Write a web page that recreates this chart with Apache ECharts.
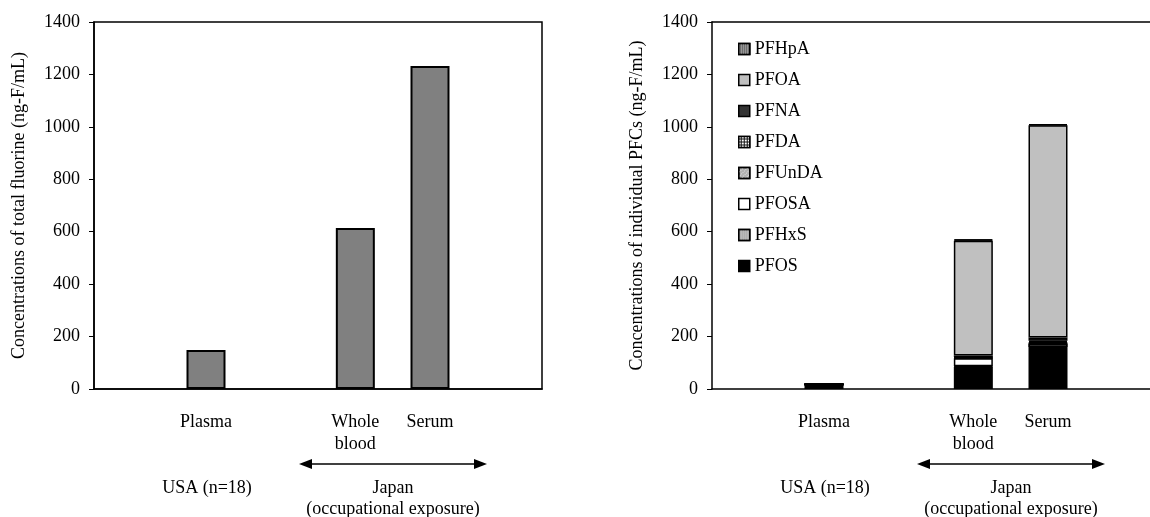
<!DOCTYPE html>
<html>
<head>
<meta charset="utf-8">
<script src="https://cdn.jsdelivr.net/npm/echarts@6/dist/echarts.min.js"></script>
<style>
  html, body { margin: 0; padding: 0; background: #fff; }
  #chart { width: 1150px; height: 517px; }
</style>
</head>
<body>
<div id="chart"></div>
<script>
// categories (empty slots keep the gaps between groups)
var categories = ["", "Plasma", "", "Whole\nblood", "Serum", ""];
var yTicks = [0, 200, 400, 600, 800, 1000, 1200, 1400];

// left panel: total fluorine
var totalFluorine = [null, 149, null, 614, 1232, null];

// right panel: individual PFCs (bottom to top of the stack)
var pfos   = [null, 14,  null, 84,  160, null];
var pfhxs  = [null, 2,   null, 3,   14,  null];
var pfosa  = [null, 0.5, null, 30,  2,   null];
var pfunda = [null, 0.5, null, 2,   3,   null];
var pfda   = [null, 0.5, null, 3,   5,   null];
var pfna   = [null, 0.5, null, 6,   12,  null];
var pfoa   = [null, 2,   null, 438, 810, null];
var pfhpa  = [null, 0.2, null, 4,   4,   null];

var legendOrder = ["PFHpA", "PFOA", "PFNA", "PFDA", "PFUnDA", "PFOSA", "PFHxS", "PFOS"];

var FONT = "Liberation Serif";
var FS = 18;

var chartDom = document.getElementById("chart");
var myChart = echarts.init(chartDom);

function xAxisFor(idx) {
  return {
    type: "category",
    gridIndex: idx,
    data: categories,
    axisLine: { lineStyle: { color: "#000", width: 1.5 } },
    axisTick: { inside: true, length: 6, alignWithLabel: false, lineStyle: { color: "#000" } },
    axisLabel: { color: "#000", fontFamily: FONT, fontSize: FS, lineHeight: 22, margin: 22, interval: 0 },
  };
}

// top edge of the frame (right panel runs off the canvas, so no grid box there)
function topAxisFor(idx) {
  return {
    type: "category",
    gridIndex: idx,
    position: "top",
    data: categories,
    axisLine: { lineStyle: { color: "#000", width: 1.5 } },
    axisTick: { show: false },
    axisLabel: { show: false },
  };
}

function yAxisFor(idx, name) {
  return {
    type: "value",
    gridIndex: idx,
    min: 0,
    max: 1400,
    interval: 200,
    name: name,
    nameLocation: "middle",
    nameRotate: 90,
    nameGap: 66,
    nameTextStyle: { color: "#000", fontFamily: FONT, fontSize: FS },
    splitLine: { show: false },
    axisLine: { show: true, lineStyle: { color: "#000", width: 1.5 } },
    axisTick: { show: true, length: 5, lineStyle: { color: "#000" } },
    axisLabel: {
      color: "#000", fontFamily: FONT, fontSize: FS, margin: 14,
      formatter: function (v) { return yTicks.indexOf(v) >= 0 ? String(v) : ""; },
    },
  };
}

// arrows + group labels under each panel
function groupLabels(left) {
  var y = 464;
  var x1 = left + 205, x2 = left + 393;
  var txt = function (x, ty, s) {
    return {
      type: "text", x: x, y: ty,
      style: { text: s, fill: "#000", font: FS + "px '" + FONT + "'", align: "center", verticalAlign: "middle" },
    };
  };
  return [
    { type: "line", shape: { x1: x1 + 8, y1: y, x2: x2 - 8, y2: y }, style: { stroke: "#000", lineWidth: 1.5 } },
    { type: "polygon", shape: { points: [[x1, y], [x1 + 13, y - 5], [x1 + 13, y + 5]] }, style: { fill: "#000" } },
    { type: "polygon", shape: { points: [[x2, y], [x2 - 13, y - 5], [x2 - 13, y + 5]] }, style: { fill: "#000" } },
    txt(left + 113, 488, "USA (n=18)"),
    txt((x1 + x2) / 2, 488, "Japan"),
    txt((x1 + x2) / 2, 509, "(occupational exposure)"),
  ];
}

function pfcSeries(name, data, color, decal) {
  var style = { color: color, borderColor: "#000", borderWidth: 1.5 };
  if (decal) style.decal = decal;
  return {
    name: name,
    type: "bar",
    stack: "pfc",
    xAxisIndex: 1,
    yAxisIndex: 1,
    barWidth: 39,
    data: data,
    itemStyle: style,
    emphasis: { disabled: true },
  };
}

var option = {
  animation: false,
  backgroundColor: "#fff",
  textStyle: { fontFamily: FONT },
  grid: [
    { left: 94, top: 22, width: 448, height: 367, show: true, borderColor: "#000", borderWidth: 1.5, backgroundColor: "transparent", outerBoundsMode: "none" },
    { left: 712, top: 22, width: 448, height: 367, show: false, outerBoundsMode: "none" },
  ],
  xAxis: [xAxisFor(0), xAxisFor(1), topAxisFor(1)],
  yAxis: [
    yAxisFor(0, "Concentrations of total fluorine (ng-F/mL)"),
    yAxisFor(1, "Concentrations of individual PFCs (ng-F/mL)"),
  ],
  legend: {
    data: legendOrder,
    orient: "vertical",
    left: 733,
    top: 35,
    itemWidth: 11,
    itemHeight: 11,
    itemGap: 13,
    icon: "rect",
    textStyle: { color: "#000", fontFamily: FONT, fontSize: FS },
    itemStyle: { borderColor: "#000", borderWidth: 1.5 },
    selectedMode: false,
  },
  series: [
    {
      name: "Total fluorine",
      type: "bar",
      xAxisIndex: 0,
      yAxisIndex: 0,
      barWidth: 39,
      data: totalFluorine,
      itemStyle: { color: "#808080", borderColor: "#000", borderWidth: 2 },
      emphasis: { disabled: true },
    },
    pfcSeries("PFOS", pfos, "#000000"),
    pfcSeries("PFHxS", pfhxs, "#a8a8a8", { symbol: "rect", symbolSize: 1, dashArrayX: [1, 1], dashArrayY: [1, 1], color: "#d0d0d0", rotation: 0 }),
    pfcSeries("PFOSA", pfosa, "#ffffff"),
    pfcSeries("PFUnDA", pfunda, "#b0b0b0", { symbol: "rect", symbolSize: 1, dashArrayX: [1, 2], dashArrayY: [1, 1], color: "#e0e0e0", rotation: Math.PI / 4 }),
    pfcSeries("PFDA", pfda, "#111111", { symbol: "rect", symbolSize: 1, dashArrayX: [2, 1], dashArrayY: [2, 1], color: "#ffffff", rotation: 0 }),
    pfcSeries("PFNA", pfna, "#333333"),
    pfcSeries("PFOA", pfoa, "#c0c0c0"),
    pfcSeries("PFHpA", pfhpa, "#5a5a5a", { symbol: "rect", symbolSize: 1, dashArrayX: [1, 1], dashArrayY: [1, 0], color: "#aaaaaa", rotation: 0 }),
  ],
  graphic: groupLabels(94).concat(groupLabels(712)),
};

option && myChart.setOption(option);
</script>
</body>
</html>
